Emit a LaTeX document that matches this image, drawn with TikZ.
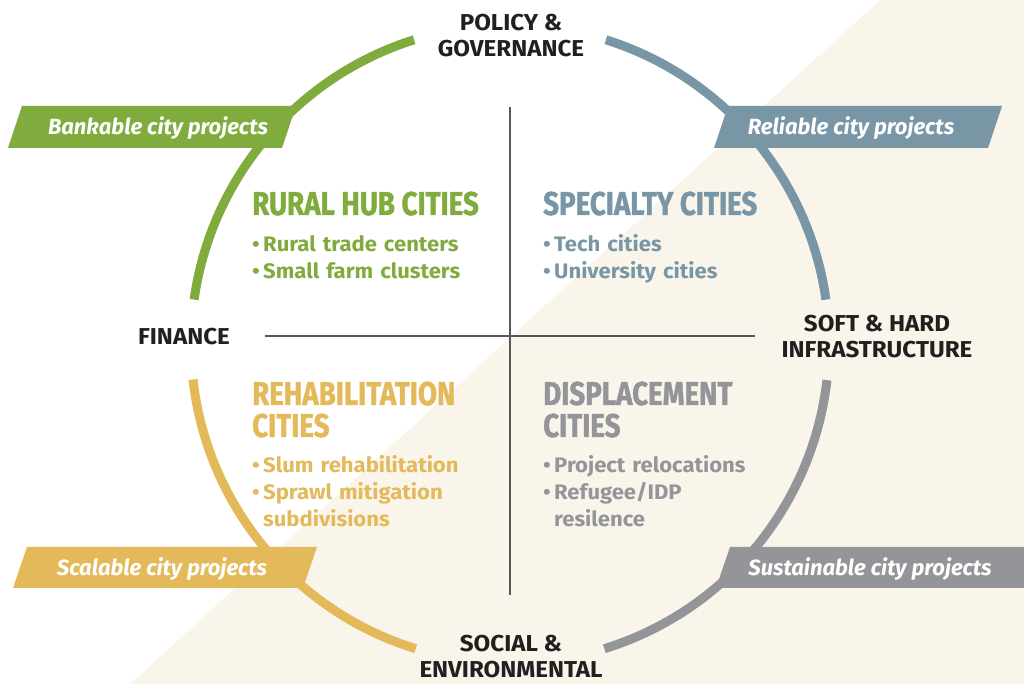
\documentclass[tikz,border=0pt]{standalone}
\usepackage{fontspec}
\setmainfont{Fira Sans}
\newfontfamily\headfont[FakeStretch=0.84,BoldFeatures={FakeBold=1.2}]{Fira Sans}
\newfontfamily\labelfont[FakeStretch=1.05]{Fira Sans}

\definecolor{cor_green}{HTML}{80AB3D}
\definecolor{cor_blue}{HTML}{7896A5}
\definecolor{cor_yellow}{HTML}{E3B95A}
\definecolor{cor_grey}{HTML}{949599}
\definecolor{cor_cream}{HTML}{F9F5EB}
\definecolor{cor_text}{HTML}{231F20}
\definecolor{cor_line}{HTML}{58585A}

\newcommand{\ponto}{\hangindent=11pt\hangafter=1\noindent\makebox[11pt][l]{\textbullet}}

\begin{document}
\begin{tikzpicture}[x=1pt,y=1pt]
        \tikzset{
            faixa/.style={
                fill=#1,
                draw=none
            },
            rotulo/.style={
                text=white,
                font=\bfseries\itshape\fontsize{22}{26}\selectfont,
                inner sep=0,
                anchor=base
            },
            eixo/.style={
                text=cor_text,
                font=\labelfont\bfseries\fontsize{23}{26}\selectfont,
                align=center,
                inner sep=0,
                anchor=base
            },
            arco/.style={
                draw=#1,
                line width=9pt
            },
            titulo/.style={
                text=#1,
                font=\headfont\bfseries\fontsize{33}{32}\selectfont,
                align=left,
                inner sep=0,
                anchor=base west
            },
            lista/.style={
                text=#1,
                font=\labelfont\bfseries\fontsize{21}{27}\selectfont,
                text width=260pt,
                align=left,
                inner sep=0,
                anchor=base west
            }
        }
        \useasboundingbox (0,0) rectangle (1024,684);

        %fundo
        \fill[cor_cream] (880,684) -- (1024,684) -- (1024,0) -- (130,0) -- cycle;

        %arcos
        \coordinate (centro) at (510,340);
        \draw[arco=cor_green]  (centro) ++(107.5:319) arc (107.5:172:319);
        \draw[arco=cor_blue]   (centro) ++(72.5:319) arc (72.5:8:319);
        \draw[arco=cor_grey]   (centro) ++(-6.5:319) arc (-6.5:-72.8:319);
        \draw[arco=cor_yellow] (centro) ++(186.4:319) arc (186.4:252.8:319);

        %eixos
        \coordinate (topo) at (510,577);
        \coordinate (fundo) at (510,89);
        \coordinate (esq) at (265,348);
        \coordinate (dir) at (755,348);
        \draw[cor_line, line width=1.5pt] (topo) -- (fundo);
        \draw[cor_line, line width=1.5pt] (esq) -- (dir);

        %faixas
        \fill[faixa=cor_green]  (22,578) -- (296,578) -- (282,536) -- (8,536) -- cycle;
        \fill[faixa=cor_blue]   (728,578) -- (1002,578) -- (988,536) -- (714,536) -- cycle;
        \fill[faixa=cor_yellow] (27,137) -- (317,137) -- (303,96) -- (13,96) -- cycle;
        \fill[faixa=cor_grey]   (730,137) -- (1040,137) -- (1026,96) -- (716,96) -- cycle;

        \node[rotulo] (bankable) at (158,549) {Bankable city projects};
        \node[rotulo] (reliable) at (851,549) {Reliable city projects};
        \node[rotulo] (scalable) at (162,108) {Scalable city projects};
        \node[rotulo] (sustainable) at (870,108) {Sustainable city projects};

        \node[eixo] (policy) at (511,627) {POLICY \&\\GOVERNANCE};
        \node[eixo] (finance) at (184,339) {FINANCE};
        \node[eixo] (infra) at (877,326) {SOFT \& HARD\\INFRASTRUCTURE};
        \node[eixo] (social) at (511,6) {SOCIAL \&\\ENVIRONMENTAL};

        %quadrantes
        \node[titulo=cor_green] (rural) at (252,469) {RURAL HUB CITIES};
        \node[lista=cor_green] (rural_lista) at (252,432) {\ponto Rural trade centers\par\ponto Small farm clusters\par};

        \node[titulo=cor_blue] (specialty) at (543,469) {SPECIALTY CITIES};
        \node[lista=cor_blue] (specialty_lista) at (543,432) {\ponto Tech cities\par\ponto University cities\par};

        \node[titulo=cor_yellow] (rehab) at (252,247) {REHABILITATION\\CITIES};
        \node[lista=cor_yellow] (rehab_lista) at (252,211) {\ponto Slum rehabilitation\par\ponto Sprawl mitigation\break subdivisions\par};

        \node[titulo=cor_grey] (displacement) at (543,247) {DISPLACEMENT\\CITIES};
        \node[lista=cor_grey] (displacement_lista) at (543,211) {\ponto Project relocations\par\ponto Refugee/IDP\break resilence\par};

\end{tikzpicture}
\end{document}
